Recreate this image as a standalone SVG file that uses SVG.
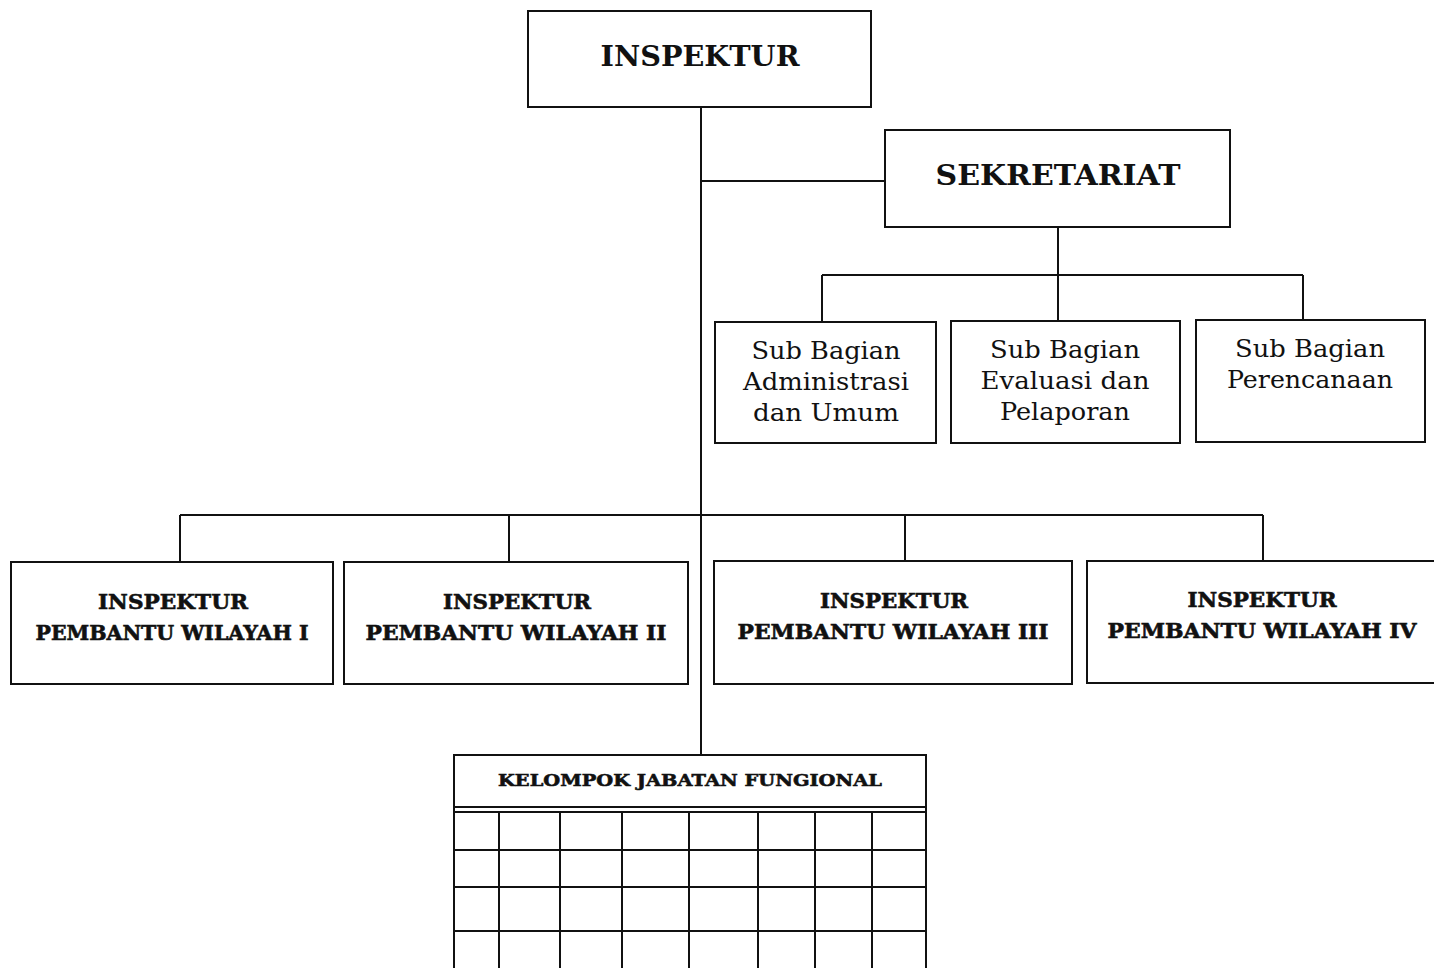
<svg xmlns="http://www.w3.org/2000/svg" width="1434" height="968" viewBox="0 0 1434 968">
<style>
.box{fill:#fff;stroke:#111;stroke-width:2}
.ln{fill:none;stroke:#111;stroke-width:2}
.t{font-family:"DejaVu Serif","Liberation Serif",serif;font-weight:bold;fill:#111;text-anchor:middle}
.h{stroke:#111;stroke-width:0.6}
.r{font-family:"DejaVu Serif","Liberation Serif",serif;fill:#111;text-anchor:middle;font-size:24px}
</style>
<rect width="1434" height="968" fill="#fff"/>
<g id="connectors" class="ln">
<path d="M701 107V755"/>
<path d="M701 181H885"/>
<path d="M1058 227V275M822 275H1303M822 275V322M1058 275V321M1303 275V320"/>
<path d="M180 515H1263M180 515V562M509 515V562M905 515V561M1263 515V561"/>
</g>
<g id="inspektur">
<rect class="box" x="528" y="11" width="343" height="96"/>
<text class="t" x="700" y="66" font-size="28" textLength="199" lengthAdjust="spacingAndGlyphs">INSPEKTUR</text>
</g>
<g id="sekretariat">
<rect class="box" x="885" y="130" width="345" height="97"/>
<text class="t" x="1058" y="185" font-size="28" textLength="245" lengthAdjust="spacingAndGlyphs">SEKRETARIAT</text>
</g>
<g id="sub1">
<rect class="box" x="715" y="322" width="221" height="121"/>
<text class="r" x="826" y="359" textLength="149" lengthAdjust="spacingAndGlyphs">Sub Bagian</text>
<text class="r" x="826" y="390" textLength="166" lengthAdjust="spacingAndGlyphs">Administrasi</text>
<text class="r" x="826" y="421" textLength="146" lengthAdjust="spacingAndGlyphs">dan Umum</text>
</g>
<g id="sub2">
<rect class="box" x="951" y="321" width="229" height="122"/>
<text class="r" x="1065" y="358" textLength="150" lengthAdjust="spacingAndGlyphs">Sub Bagian</text>
<text class="r" x="1065" y="389" textLength="169" lengthAdjust="spacingAndGlyphs">Evaluasi dan</text>
<text class="r" x="1065" y="420" textLength="130" lengthAdjust="spacingAndGlyphs">Pelaporan</text>
</g>
<g id="sub3">
<rect class="box" x="1196" y="320" width="229" height="122"/>
<text class="r" x="1310" y="357" textLength="150" lengthAdjust="spacingAndGlyphs">Sub Bagian</text>
<text class="r" x="1310" y="388" textLength="166" lengthAdjust="spacingAndGlyphs">Perencanaan</text>
</g>
<g id="ipw1">
<rect class="box" x="11" y="562" width="322" height="122"/>
<text class="t h" x="173" y="609" font-size="20" textLength="150" lengthAdjust="spacingAndGlyphs">INSPEKTUR</text>
<text class="t h" x="172" y="640" font-size="20" textLength="273" lengthAdjust="spacingAndGlyphs">PEMBANTU WILAYAH I</text>
</g>
<g id="ipw2">
<rect class="box" x="344" y="562" width="344" height="122"/>
<text class="t h" x="517" y="609" font-size="20" textLength="148" lengthAdjust="spacingAndGlyphs">INSPEKTUR</text>
<text class="t h" x="516" y="640" font-size="20" textLength="301" lengthAdjust="spacingAndGlyphs">PEMBANTU WILAYAH II</text>
</g>
<g id="ipw3">
<rect class="box" x="714" y="561" width="358" height="123"/>
<text class="t h" x="894" y="608" font-size="20" textLength="148" lengthAdjust="spacingAndGlyphs">INSPEKTUR</text>
<text class="t h" x="893" y="639" font-size="20" textLength="311" lengthAdjust="spacingAndGlyphs">PEMBANTU WILAYAH III</text>
</g>
<g id="ipw4">
<rect class="box" x="1087" y="561" width="356" height="122"/>
<text class="t h" x="1262" y="607" font-size="20" textLength="149" lengthAdjust="spacingAndGlyphs">INSPEKTUR</text>
<text class="t h" x="1262" y="638" font-size="20" textLength="309" lengthAdjust="spacingAndGlyphs">PEMBANTU WILAYAH IV</text>
</g>
<g id="kelompok">
<rect class="box" x="454" y="755" width="472" height="230"/>
<text class="t h" x="690" y="786" font-size="17" textLength="384" lengthAdjust="spacingAndGlyphs">KELOMPOK JABATAN FUNGIONAL</text>
<path class="ln" d="M454 807H926M454 812H926M454 850H926M454 887H926M454 931H926"/>
<path class="ln" d="M499 812V968M560 812V968M622 812V968M689 812V968M758 812V968M815 812V968M872 812V968"/>
</g>
</svg>
